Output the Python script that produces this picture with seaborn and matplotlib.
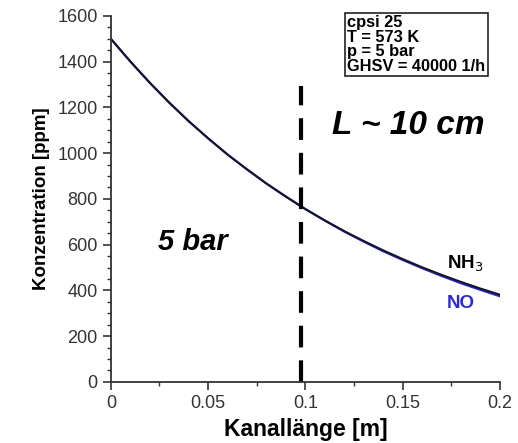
import numpy as np
import pandas as pd
import matplotlib
matplotlib.use('Agg')
import matplotlib.pyplot as plt
import seaborn as sns
from matplotlib.ticker import MultipleLocator

# Kanallänge [m] und Konzentrationen [ppm]
laenge = [0.00, 0.01, 0.02, 0.03, 0.04, 0.05, 0.06, 0.07, 0.08, 0.09, 0.10,
          0.11, 0.12, 0.13, 0.14, 0.15, 0.16, 0.17, 0.18, 0.19, 0.20]
nh3 = [1500, 1401, 1308, 1221, 1140, 1065, 994, 929, 867, 810, 756,
       706, 659, 616, 575, 537, 501, 468, 437, 408, 381]
no = [1500, 1401, 1308, 1221, 1140, 1065, 994, 929, 867, 810, 755,
      705, 657, 613, 571, 533, 497, 463, 431, 402, 374]
l_marke = 0.098
l_marke_top = 1295

df = pd.DataFrame({'x': laenge * 2, 'c': nh3 + no,
                   'spezies': ['NH3'] * len(laenge) + ['NO'] * len(laenge)})

sns.set_style('white')
plt.rcParams['font.family'] = ['Liberation Sans', 'DejaVu Sans']
plt.rcParams['text.color'] = 'black'
plt.rcParams['axes.labelcolor'] = 'black'

fig = plt.figure(figsize=(5.18, 4.43), dpi=100)
ax = fig.add_axes([0.214, 0.138, 0.751, 0.826])

sns.lineplot(data=df, x='x', y='c', hue='spezies', hue_order=['NO', 'NH3'],
             palette={'NH3': '#14142a', 'NO': '#2a2ad0'}, linewidth=1.5,
             legend=False, ax=ax)

ax.plot([l_marke, l_marke], [0, l_marke_top], color='black', lw=3,
        dashes=(5.2, 3.1))

ax.set_xlim(0, 0.2)
ax.set_ylim(0, 1600)
ax.xaxis.set_major_locator(MultipleLocator(0.05))
ax.xaxis.set_minor_locator(MultipleLocator(0.025))
ax.yaxis.set_major_locator(MultipleLocator(200))
ax.yaxis.set_minor_locator(MultipleLocator(50))
ax.set_xticks([0, 0.05, 0.1, 0.15, 0.2])
ax.set_xticklabels(['0', '0.05', '0.1', '0.15', '0.2'])

for s in ['top', 'right']:
    ax.spines[s].set_visible(False)
for s in ['left', 'bottom']:
    ax.spines[s].set_color('#333333')
    ax.spines[s].set_linewidth(1.3)

ax.tick_params(which='major', direction='out', length=6, width=1.2,
               colors='#333333', labelsize=13, labelcolor='#333333',
               left=True, bottom=True)
ax.tick_params(which='minor', direction='out', length=3, width=1,
               colors='#333333', left=True, bottom=True)

ax.set_xlabel('Kanallänge [m]', fontsize=16.5, fontweight='bold', labelpad=4)
ax.set_ylabel('Konzentration [ppm]', fontsize=13.5, fontweight='bold', labelpad=5)

ax.text(0.1135, 1120, 'L ~ 10 cm', fontsize=24, fontweight='bold',
        style='italic', va='center')
ax.text(0.024, 610, '5 bar', fontsize=21, fontweight='bold',
        style='italic', va='center')
ax.text(0.1728, 517, 'NH$_3$', fontsize=13.5, fontweight='bold', va='center')
ax.text(0.1728, 342, 'NO', fontsize=13.5, fontweight='bold', color='#2a2ad0',
        va='center')

fig.text(347 / 518, 1 - 15 / 443,
         'cpsi 25\nT = 573 K\np = 5 bar\nGHSV = 40000 1/h',
         fontsize=11.8, fontweight='bold', va='top', ha='left', linespacing=0.96,
         bbox=dict(boxstyle='square,pad=0.15', fc='white', ec='#222222', lw=1.2))

fig.savefig('out.png', dpi=100)
